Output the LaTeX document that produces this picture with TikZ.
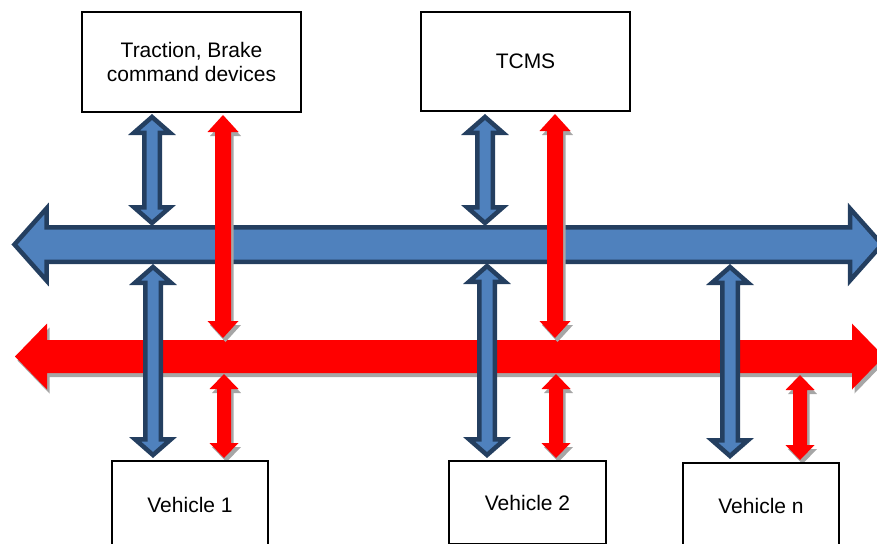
\documentclass[tikz,border=0pt]{standalone}
\usepackage{fontspec}
\setmainfont{Liberation Sans}
\usetikzlibrary{calc}

\definecolor{busblue}{HTML}{4F81BD}
\definecolor{busedge}{HTML}{243F60}
\definecolor{shadowgray}{HTML}{A6A6A6}

\tikzset{
  box/.style={draw=black, line width=1.2pt, fill=white, align=center,
    inner sep=0pt, font=\fontsize{21}{24.5}\selectfont},
  bluearrow/.style={fill=busblue, draw=busedge, line width=4.5pt, line join=miter},
  redarrow/.style={fill=red},
  redshadow/.style={fill=shadowgray, transform canvas={shift={(2.5,4)}}},
}

% vertical double block arrow: style, top end, bottom end, half shaft, half head, head length
\newcommand{\vblock}[6]{%
  \path[#1] let \p1=(#2), \p2=(#3) in
    (\x1,\y1) -- ({\x1+#5},{\y1-#6}) -- ({\x1+#4},{\y1-#6})
    -- ({\x1+#4},{\y2+#6}) -- ({\x1+#5},{\y2+#6}) -- (\x1,\y2)
    -- ({\x1-#5},{\y2+#6}) -- ({\x1-#4},{\y2+#6}) -- ({\x1-#4},{\y1-#6})
    -- ({\x1-#5},{\y1-#6}) -- cycle;}

% horizontal double block arrow: style, left end, right end, half shaft, half head, head length
\newcommand{\hblock}[6]{%
  \path[#1] let \p1=(#2), \p2=(#3) in
    (\x1,\y1) -- ({\x1+#6},{\y1+#5}) -- ({\x1+#6},{\y1+#4})
    -- ({\x2-#6},{\y1+#4}) -- ({\x2-#6},{\y1+#5}) -- (\x2,\y1)
    -- ({\x2-#6},{\y1-#5}) -- ({\x2-#6},{\y1-#4}) -- ({\x1+#6},{\y1-#4})
    -- ({\x1+#6},{\y1-#5}) -- cycle;}

\begin{document}
\begin{tikzpicture}[x=1pt, y=-1pt]
\useasboundingbox (0,0) rectangle (877,543);
\clip (0,0) rectangle (877,543);

% bus end points
\coordinate (bbL) at (14.5,244.5);
\coordinate (bbR) at (882,244.5);
\coordinate (rbL) at (15,356.5);
\coordinate (rbR) at (884,356.5);

% end points of the links between devices and buses
\coordinate (tcdB1) at (152,117);   \coordinate (busB1) at (152,223);
\coordinate (tcmsB1) at (485,117);  \coordinate (busB2) at (485,223);
\coordinate (busB3) at (153,267);   \coordinate (v1B) at (153,455);
\coordinate (busB4) at (487,266);   \coordinate (v2B) at (487,455);
\coordinate (busB5) at (730,267);   \coordinate (vnB) at (730,456);
\coordinate (tcdR1) at (223,115);   \coordinate (busR1) at (223,338);
\coordinate (tcmsR1) at (555,114);  \coordinate (busR2) at (555,338);
\coordinate (busR3) at (224,374);   \coordinate (v1R) at (224,458);
\coordinate (busR4) at (556,374);   \coordinate (v2R) at (556,458);
\coordinate (busR5) at (800,375);   \coordinate (vnR) at (800,460);

% buses
\hblock{bluearrow}{bbL}{bbR}{17.25pt}{36pt}{32pt}
\hblock{redshadow}{rbL}{rbR}{16.5pt}{33pt}{32pt}
\hblock{redarrow}{rbL}{rbR}{16.5pt}{33pt}{32pt}

% red links
\foreach \a/\b in {tcdR1/busR1, tcmsR1/busR2}{
  \vblock{redshadow}{\a}{\b}{8pt}{15.5pt}{17pt}
  \vblock{redarrow}{\a}{\b}{8pt}{15.5pt}{17pt}
}
\foreach \a/\b in {busR3/v1R, busR4/v2R, busR5/vnR}{
  \vblock{redshadow}{\a}{\b}{7pt}{14.5pt}{15pt}
  \vblock{redarrow}{\a}{\b}{7pt}{14.5pt}{15pt}
}

% blue links
\foreach \a/\b in {tcdB1/busB1, tcmsB1/busB2, busB3/v1B, busB4/v2B, busB5/vnB}{
  \vblock{bluearrow}{\a}{\b}{7.75pt}{18pt}{15.75pt}
}

% devices
\node[box, minimum width=219pt, minimum height=100pt] (tcd) at (191.5,62)
  {Traction, Brake\\command devices};
\node[box, minimum width=209pt, minimum height=99pt] (tcms) at (525.5,61.5) {TCMS};
\node[box, minimum width=156pt, minimum height=87pt] (v1) at (190,504.5) {Vehicle 1};
\node[box, minimum width=157pt, minimum height=83pt] (v2) at (527.5,502.5) {Vehicle 2};
\node[box, minimum width=156pt, minimum height=85pt] (vn) at (761,505.5) {Vehicle n};
\end{tikzpicture}
\end{document}
